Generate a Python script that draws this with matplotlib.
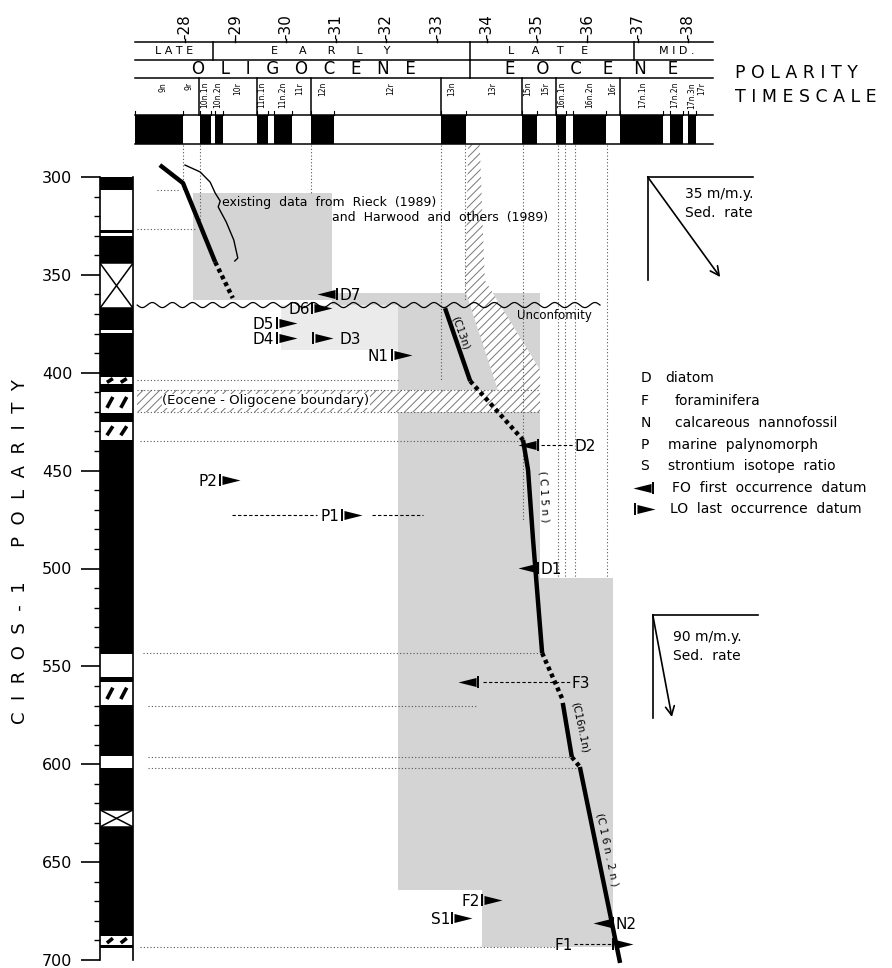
import numpy as np
import matplotlib
matplotlib.use('Agg')
import matplotlib.pyplot as plt
from matplotlib.patches import Rectangle, Polygon
from matplotlib.path import Path

plt.rcParams['font.family'] = ['DejaVu Sans']
plt.rcParams['hatch.linewidth'] = 0.7

# ---------------- data ----------------
# polarity timescale (ages in m.y.; normal chrons drawn black)
ts_start, ts_end = 27.01, 38.50
normal_start = [27.01, 28.30, 28.60, 29.43, 29.77, 30.50, 33.09, 34.70, 35.38, 35.71, 36.65, 37.64, 38.00]
normal_end   = [27.96, 28.52, 28.76, 29.65, 30.13, 30.96, 33.59, 35.00, 35.57, 36.37, 37.50, 37.90, 38.16]
chron_names = ['9n', '9r', '10n.1n', '10n.2n', '10r', '11n.1n', '11n.2n', '11r', '12n', '12r',
               '13n', '13r', '15n', '15r', '16n.1n', '16n.2n', '16r', '17n.1n', '17n.2n', '17n.3n', '17r']
chron_label_age = [27.56, 28.08, 28.40, 28.66, 29.05, 29.53, 29.95, 30.29, 30.74, 32.08,
                   33.31, 34.12, 34.82, 35.18, 35.48, 36.05, 36.51, 37.09, 37.74, 38.08, 38.28]
chron_dividers = [28.28, 29.43, 30.50, 33.09, 34.70, 35.38, 36.65]
epoch_names = ['L A T E', 'E      A      R      L      Y', 'L     A     T     E', 'M I D .']
epoch_centers = [27.78, 30.90, 35.22, 37.78]
epoch_dividers = [28.56, 33.67, 36.93]
series_names = ['O   L   I   G   O   C   E   N   E', 'E    O    C    E    N    E']
series_centers = [30.36, 36.09]
series_dividers = [33.67]
age_ticks = [28, 29, 30, 31, 32, 33, 34, 35, 36, 37, 38]
age_tick_labels = ['-28', '-29', '-30', '-31', '-32', '-33', '-34', '-35', '-36', '-37', '-38']

# CIROS-1 polarity column (depth in m)
col_edges = [300, 306.6, 327.0, 328.5, 330.0, 344.0, 367.0, 378.0, 379.5, 402.0, 405.9, 409.6,
             420.7, 425.0, 434.3, 543.6, 555.4, 558.0, 569.6, 595.7, 601.8, 623.3, 632.0,
             687.7, 692.5, 694.0, 700]
col_kind = ['n', 'r', 'n', 'r', 'n', 'x', 'n', 'r', 'n', 'h', 'n', 'h', 'n', 'h', 'n',
            'r', 'n', 'h', 'n', 'r', 'n', 'x', 'n', 'h', 'n', 'r']
depth_ticks = [300, 350, 400, 450, 500, 550, 600, 650, 700]

# age-depth line segments (age, depth); solid and dotted
seg_solid = [
    ([27.50, 27.96, 28.60], [293.9, 303.1, 343.4]),
    ([33.17, 33.67], [367.0, 404.2]),
    ([34.72, 34.82, 34.92, 35.10], [434.3, 449.6, 485.4, 543.1]),
    ([35.51, 35.69], [568.6, 596.2]),
    ([35.85, 36.65], [601.3, 701.4]),
]
seg_dotted = [
    ([28.60, 28.95], [343.4, 361.8]),
    ([33.67, 34.72], [404.2, 434.3]),
    ([35.10, 35.51], [543.1, 567.1]),
    ([35.69, 35.85], [596.2, 601.3]),
]
seg_labels = ['(C13n)', '( C 1 5 n )', '(C16n.1n)', '(C 1 6 n . 2 n )']
seg_label_age = [33.47, 35.13, 35.86, 36.40]
seg_label_depth = [379.5, 463.4, 580.9, 643.7]
seg_label_rot = [-70, -87, -78, -78]

# biostratigraphic datums
datum_names = ['D7', 'D6', 'D5', 'D4', 'D3', 'N1', 'D2', 'P2', 'P1', 'D1', 'F3', 'F2', 'S1', 'N2', 'F1']
datum_kind = ['FO', 'LO', 'LO', 'LO', 'LO', 'LO', 'FO', 'LO', 'LO', 'FO', 'FO', 'LO', 'LO', 'FO', 'LO']
datum_age = [31.02, 30.52, 29.83, 29.83, 30.54, 32.12, 35.02, 28.70, 31.12, 35.02, 33.83, 33.90, 33.31, 36.51, 36.51]
datum_depth = [359.8, 366.9, 374.6, 382.2, 382.2, 390.9, 436.9, 454.8, 472.6, 499.7, 557.9, 669.3, 678.5, 681.0, 691.5]
label_side = ['right', 'left', 'left', 'left', 'right', 'left', 'right', 'left', 'left', 'right',
              'right', 'left', 'left', 'right', 'left']
label_age = [31.08, 30.48, 29.77, 29.77, 31.08, 32.05, 35.75, 28.65, 31.07, 35.06, 35.69, 33.86, 33.27, 36.55, 35.71]
connector_names = ['D2', 'F3', 'F1']
connector_age0 = [35.08, 33.92, 35.73]
connector_age1 = [35.74, 35.68, 36.48]
connector_depth = [436.9, 557.9, 691.5]
p1_range_age0 = [28.93, 31.72]
p1_range_age1 = [30.62, 32.73]
p1_range_depth = 472.6

# stippled age/depth uncertainty boxes
stip_age0 = [28.16, 30.92, 32.23, 35.06, 33.90]
stip_age1 = [30.92, 35.06, 35.06, 36.51, 35.06]
stip_dep0 = [308.0, 359.2, 359.2, 504.8, 664.1]
stip_dep1 = [362.8, 365.4, 664.1, 693.3, 693.3]
fade_age = (29.90, 32.23)
fade_dep = (365.4, 388.4)

# hatched bands
eo_band_age = (27.05, 35.06)
eo_band_dep = (408.8, 420.0)
slant_age = [33.63, 33.86, 33.96, 35.06, 35.06, 34.36, 33.57]
slant_dep = [283.7, 283.7, 352.6, 398.6, 420.0, 420.0, 357.7]

# dotted correlation lines
hdot_depth = [306.6, 326.6, 403.7, 434.8, 543.1, 570.2, 596.2, 601.8, 693.3]
hdot_age0 = [27.44, 27.05, 27.05, 27.11, 27.17, 27.26, 27.26, 27.26, 27.11]
hdot_age1 = [27.90, 28.20, 32.23, 34.72, 35.06, 33.80, 35.69, 35.85, 35.45]
vdot_age = [27.96, 28.30, 30.50, 33.09, 33.57, 34.72, 35.42, 35.55, 35.75, 36.39]
vdot_dep1 = [306.6, 326.6, 308.0, 403.7, 362.8, 475.0, 504.8, 504.8, 504.8, 504.8]
vdot_top = 283.7

unconf_age = (27.05, 36.25)
unconf_depth = 365.4

brace_age = [28.00, 28.30, 28.50, 28.60, 28.70, 28.66, 28.82, 28.97, 29.05, 28.99]
brace_dep = [293.9, 297.4, 302.6, 308.2, 312.3, 315.3, 323.0, 332.2, 341.4, 342.9]

# sedimentation-rate keys: corner (age, depth), frame extent, arrow tip
sed_labels = ['35 m/m.y.\nSed.  rate', '90 m/m.y.\nSed.  rate']
sed_corner_age = [37.20, 37.30]
sed_corner_dep = [300.0, 523.7]
sed_frame_age1 = [39.29, 39.39]
sed_frame_dep1 = [352.6, 576.3]
sed_tip_age = [38.64, 37.68]
sed_tip_dep = [351.1, 575.8]
sed_text_age = [37.94, 37.70]
sed_text_dep = [313.5, 539.8]

# legend
leg_letters = ['D', 'F', 'N', 'P', 'S']
leg_desc = ['diatom', 'foraminifera', 'calcareous  nannofossil', 'marine  palynomorph', 'strontium  isotope  ratio']
leg_depth = [402.7, 414.4, 425.6, 436.9, 447.6]
leg_desc_age = [37.54, 37.74, 37.74, 37.60, 37.60]
leg_letter_age = 37.05
leg_marker_kind = ['FO', 'LO']
leg_marker_age = [37.30, 36.95]
leg_marker_depth = [458.8, 469.6]
leg_marker_text = ['FO  first  occurrence  datum', 'LO  last  occurrence  datum']
leg_marker_text_age = [37.68, 37.64]

# ---------------- layout ----------------
W, H = 892, 968
AGE_REF_PX, AGE_REF, PX_PER_MY = 185.0, 28.0, 50.3
DEP_REF_PX, DEP_REF, PX_PER_M = 177.0, 300.0, 1.958


def age_at(px):
    return AGE_REF + (px - AGE_REF_PX) / PX_PER_MY


def dep_at(py):
    return DEP_REF + (py - DEP_REF_PX) / PX_PER_M


fig = plt.figure(figsize=(W / 100, H / 100), dpi=100)
MAIN_TOP, MAIN_BOT = 145, 968
ax = fig.add_axes([0, 1 - MAIN_BOT / H, 1, (MAIN_BOT - MAIN_TOP) / H])
ax.set_xlim(age_at(0), age_at(W))
ax.set_ylim(dep_at(MAIN_BOT), dep_at(MAIN_TOP))
ax.axis('off')

ts = fig.add_axes([0, 1 - MAIN_TOP / H, 1, MAIN_TOP / H])
ts.set_xlim(age_at(0), age_at(W))
ts.set_ylim(MAIN_TOP, 0)
ts.axis('off')

# ---------------- timescale ----------------
R_TOP, R1, R2, B_TOP, B_BOT = 42, 60, 78, 115, 144
for yy in [R_TOP, R1, R2]:
    ts.plot([ts_start, ts_end], [yy, yy], color='k', lw=1.1)
for a in epoch_dividers:
    ts.plot([a, a], [R_TOP, R1], color='k', lw=1.1)
for a in series_dividers:
    ts.plot([a, a], [R1, R2], color='k', lw=1.1)
for a in chron_dividers:
    ts.plot([a, a], [R2, B_TOP], color='k', lw=1.1)
ts.plot([ts_start, ts_end], [B_TOP, B_TOP], color='k', lw=1.1)
ts.plot([ts_start, ts_end], [B_BOT, B_BOT], color='k', lw=1.1)
for a0, a1 in zip(normal_start, normal_end):
    ts.add_patch(Rectangle((a0, B_TOP), a1 - a0, B_BOT - B_TOP, color='black', lw=0))
    for a in (a0, a1):
        ts.plot([a, a], [B_TOP - 4, B_TOP], color='k', lw=0.8)
for a, lab in zip(age_ticks, age_tick_labels):
    ts.plot([a, a], [R_TOP - 3, R_TOP], color='k', lw=1)
    ts.text(a, R_TOP - 3, lab, rotation=90, ha='center', va='bottom', fontsize=11)
for lab, a in zip(epoch_names, epoch_centers):
    ts.text(a, (R_TOP + R1) / 2 + 0.5, lab, ha='center', va='center', fontsize=8)
for lab, a in zip(series_names, series_centers):
    ts.text(a, (R1 + R2) / 2 + 0.5, lab, ha='center', va='center', fontsize=12)
for lab, a in zip(chron_names, chron_label_age):
    ts.text(a, R2 + 4, lab, rotation=90, ha='center', va='top', fontsize=5.5)
ts.text(age_at(735), 73, 'P O L A R I T Y', ha='left', va='center', fontsize=12.5)
ts.text(age_at(735), 97, 'T I M E S C A L E', ha='left', va='center', fontsize=12.5)

# ---------------- column ----------------
col = fig.add_axes([100 / W, 1 - 960 / H, 33 / W, 783 / H])
col.set_xlim(0, 1)
col.set_ylim(700, 300)
for d0, d1, k in zip(col_edges[:-1], col_edges[1:], col_kind):
    if k == 'n':
        col.axhspan(d0, d1, color='black', lw=0)
    elif k == 'x':
        col.plot([0, 1], [d0, d1], color='k', lw=1.1)
        col.plot([0, 1], [d1, d0], color='k', lw=1.1)
        col.plot([0, 1], [d0, d0], color='k', lw=1.1)
        col.plot([0, 1], [d1, d1], color='k', lw=1.1)
    elif k == 'h':
        h = d1 - d0
        for xf in (0.3, 0.72):
            col.plot([xf - 0.09, xf + 0.09], [d1 - 0.25 * h, d0 + 0.25 * h], color='k', lw=2.6,
                     solid_capstyle='butt')
for s in ['top', 'bottom']:
    col.spines[s].set_visible(False)
for s in ['left', 'right']:
    col.spines[s].set_linewidth(1.2)
col.set_xticks([])
col.set_yticks(depth_ticks)
col.set_yticks(np.arange(310, 700, 10), minor=True)
col.tick_params(axis='y', which='major', length=14, width=1.2, pad=6, labelsize=11.5)
col.tick_params(axis='y', which='minor', length=4, width=1.0)
fig.text(20 / W, 1 - 552 / H, 'C  I  R  O  S  -  1      P  O  L  A  R  I  T  Y',
         rotation=90, ha='center', va='center', fontsize=13)

# ---------------- main panel ----------------
STIP = '#d4d4d4'
for a0, a1, d0, d1 in zip(stip_age0, stip_age1, stip_dep0, stip_dep1):
    ax.add_patch(Rectangle((a0, d0), a1 - a0, d1 - d0, facecolor=STIP, edgecolor='none', zorder=1))
ax.add_patch(Rectangle((fade_age[0], fade_dep[0]), fade_age[1] - fade_age[0], fade_dep[1] - fade_dep[0],
                       facecolor='#ebebeb', edgecolor='none', zorder=0.9))

ax.add_patch(Rectangle((eo_band_age[0], eo_band_dep[0]), eo_band_age[1] - eo_band_age[0],
                       eo_band_dep[1] - eo_band_dep[0], facecolor='white', edgecolor='#777777',
                       hatch='////', lw=0, zorder=1.5))
ax.add_patch(Polygon(list(zip(slant_age, slant_dep)), closed=True, facecolor='white',
                     edgecolor='#777777', hatch='////', lw=0, zorder=1.4))
for dd in eo_band_dep:
    ax.plot(eo_band_age, [dd, dd], color='#555555', lw=0.8, ls=(0, (1, 2)), zorder=2)
ax.text(27.55, sum(eo_band_dep) / 2, '(Eocene - Oligocene boundary)', ha='left', va='center',
        fontsize=9.5, zorder=3, bbox=dict(facecolor='white', edgecolor='none', pad=0.5))

for d, a0, a1 in zip(hdot_depth, hdot_age0, hdot_age1):
    ax.plot([a0, a1], [d, d], color='#555555', lw=0.8, ls=(0, (1, 2)), zorder=2)
for a, d1 in zip(vdot_age, vdot_dep1):
    ax.plot([a, a], [vdot_top, d1], color='#555555', lw=0.8, ls=(0, (1, 2)), zorder=2)

# unconformity (wavy symbol)
ua = np.linspace(unconf_age[0], unconf_age[1], 800)
ax.plot(ua, unconf_depth + 1.3 * np.sin(2 * np.pi * (ua - ua[0]) / 0.4), color='k', lw=0.9, zorder=3)
ax.text(34.60, 370.8, 'Unconfomity', ha='left', va='center', fontsize=8.5, zorder=4)

# age-depth line
for xs, ys in seg_solid:
    ax.plot(xs, ys, color='k', lw=3.2, solid_capstyle='butt', zorder=4)
for xs, ys in seg_dotted:
    ax.plot(xs, ys, color='k', lw=3.2, ls=(0, (0.9, 0.8)), dash_capstyle='butt', zorder=4)
for lab, a, d, r in zip(seg_labels, seg_label_age, seg_label_depth, seg_label_rot):
    ax.text(a, d, lab, rotation=r, ha='center', va='center', fontsize=7.5, zorder=5)

# brace and annotation for existing data
ax.plot(brace_age, brace_dep, color='k', lw=1.0, zorder=4)
ax.text(28.74, 312.8, 'existing  data  from  Rieck  (1989)', ha='left', va='center', fontsize=9, zorder=5)
ax.text(30.92, 320.9, 'and  Harwood  and  others  (1989)', ha='left', va='center', fontsize=9, zorder=5)

# datum markers
tri_r = Path([(-1, -0.5), (1, 0), (-1, 0.5), (-1, -0.5)],
             [Path.MOVETO, Path.LINETO, Path.LINETO, Path.CLOSEPOLY])
tri_l = Path([(1, -0.5), (-1, 0), (1, 0.5), (1, -0.5)],
             [Path.MOVETO, Path.LINETO, Path.LINETO, Path.CLOSEPOLY])
TRI_OFF = 0.22


def draw_datum(a, d, kind):
    ax.plot([a], [d], marker='|', ms=9, mew=1.4, color='k', zorder=6)
    if kind == 'LO':
        ax.plot([a + TRI_OFF], [d], marker=tri_r, ms=13, mew=0, color='k', zorder=6)
    else:
        ax.plot([a - TRI_OFF], [d], marker=tri_l, ms=13, mew=0, color='k', zorder=6)


for name, kind, a, d, side, la in zip(datum_names, datum_kind, datum_age, datum_depth, label_side, label_age):
    draw_datum(a, d, kind)
    ax.text(la, d, name, ha='left' if side == 'right' else 'right', va='center_baseline',
            fontsize=11, zorder=6)
for a0, a1, d in zip(connector_age0, connector_age1, connector_depth):
    ax.plot([a0, a1], [d, d], color='k', lw=0.8, ls=(0, (3, 2)), zorder=5)
for a0, a1 in zip(p1_range_age0, p1_range_age1):
    ax.plot([a0, a1], [p1_range_depth, p1_range_depth], color='k', lw=0.8, ls=(0, (3, 2)), zorder=5)

# sedimentation rate keys
for lab, ca, cd, fa, fd, ta, td, xa, xd in zip(sed_labels, sed_corner_age, sed_corner_dep, sed_frame_age1,
                                                 sed_frame_dep1, sed_tip_age, sed_tip_dep, sed_text_age,
                                                 sed_text_dep):
    ax.plot([ca, fa], [cd, cd], color='k', lw=1.2, zorder=5)
    ax.plot([ca, ca], [cd, fd], color='k', lw=1.2, zorder=5)
    ax.annotate('', xy=(ta, td), xytext=(ca, cd),
                arrowprops=dict(arrowstyle='->', lw=1.2, color='k', mutation_scale=16,
                                shrinkA=0, shrinkB=0), zorder=5)
    ax.text(xa, xd, lab, ha='left', va='center', fontsize=10, linespacing=1.5, zorder=5)

# legend
for l, t, d, ta in zip(leg_letters, leg_desc, leg_depth, leg_desc_age):
    ax.text(leg_letter_age, d, l, ha='left', va='center', fontsize=10)
    ax.text(ta, d, t, ha='left', va='center', fontsize=10)
for kind, a, d, t, ta in zip(leg_marker_kind, leg_marker_age, leg_marker_depth, leg_marker_text,
                             leg_marker_text_age):
    draw_datum(a, d, kind)
    ax.text(ta, d, t, ha='left', va='center', fontsize=10)

fig.savefig('out.png', dpi=100)
